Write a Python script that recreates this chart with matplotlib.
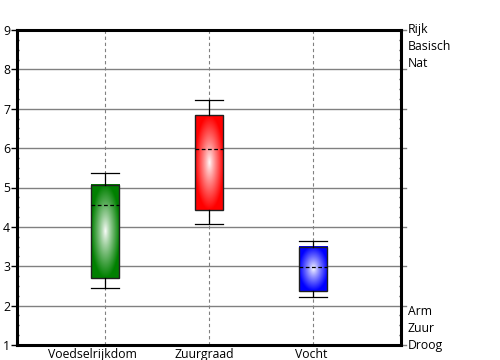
import numpy as np
import matplotlib
matplotlib.use("Agg")
import matplotlib.pyplot as plt
import matplotlib.transforms as mtransforms
from matplotlib.colors import to_rgb

categories = ["Voedselrijkdom", "Zuurgraad", "Vocht"]
whis_low = [2.44, 4.07, 2.21]
q1 = [2.69, 4.44, 2.36]
median = [4.55, 5.97, 2.97]
q3 = [5.07, 6.84, 3.48]
whis_high = [5.38, 7.22, 3.63]
colors = ["#008000", "#ff0000", "#0000ff"]
right_top_labels = ["Rijk", "Basisch", "Nat"]
right_bottom_labels = ["Arm", "Zuur", "Droog"]

plt.rcParams['font.family'] = ['Open Sans', 'DejaVu Sans']
FS = 8.8
label_shift_px = [-13, -5, -2]

fig = plt.figure(figsize=(5, 3.6), dpi=100)
ax = fig.add_axes([17/500, 1 - 345/360, (401 - 17)/500, (345 - 30)/360])

pos = np.arange(1, len(categories) + 1)
width = 0.27
stats = [dict(med=m, q1=a, q3=b, whislo=lo, whishi=hi, fliers=[])
         for m, a, b, lo, hi in zip(median, q1, q3, whis_low, whis_high)]
bp = ax.bxp(stats, positions=pos, widths=width, patch_artist=True,
            showfliers=False, capwidths=width,
            boxprops=dict(facecolor='none', edgecolor='#202020', linewidth=1),
            whiskerprops=dict(color='black', linewidth=0.9),
            capprops=dict(color='black', linewidth=0.9),
            medianprops=dict(color='black', linestyle=(0, (3, 2)), linewidth=0.9),
            zorder=4)

for i, (p, a, b, c) in enumerate(zip(pos, q1, q3, colors)):
    n = 200
    yy, xx = np.mgrid[-1:1:n*1j, -1:1:n*1j]
    r = np.clip(np.sqrt(xx**2 + yy**2), 0, 1) ** 0.85
    base = np.array(to_rgb(c))
    img = (1 - r[..., None]) * np.ones(3) + r[..., None] * base
    ax.imshow(img, extent=[p - width/2, p + width/2, a, b], aspect='auto',
              origin='lower', zorder=3, interpolation='bilinear')

ax.set_xlim(0.154, 3.846)
ax.set_ylim(1, 9)

# grid
for y in range(2, 9):
    ax.axhline(y, color='#808080', linewidth=1, zorder=1)
for p in pos:
    ax.axvline(p, color='#808080', linewidth=0.8, linestyle=(0, (3, 2.5)), zorder=1)

ax.set_xticks(pos)
ax.set_xticklabels(categories, fontsize=FS)
ax.tick_params(axis='x', length=0, pad=2)
for lbl, dx in zip(ax.get_xticklabels(), label_shift_px):
    lbl.set_transform(lbl.get_transform() +
                      mtransforms.ScaledTranslation(dx / 100, 0, fig.dpi_scale_trans))
ax.set_yticks(range(1, 10))
ax.set_yticklabels([str(v) for v in range(1, 10)], fontsize=FS)
ax.set_yticks(np.arange(1, 9.01, 0.25), minor=True)
ax.tick_params(axis='y', which='major', length=4, width=1, color='black', pad=1,
               right=False, labelright=False)
ax.tick_params(axis='y', which='minor', length=1.5, width=1, color='#404040',
               direction='in', right=True)
# right-side gray ticks (extensions of grid)
for y in range(1, 10):
    ax.plot([1.0, 1.012], [y, y], transform=ax.get_yaxis_transform(),
            color='#808080', linewidth=1, clip_on=False, zorder=2)
for s in ax.spines.values():
    s.set_linewidth(2.2)
    s.set_color('black')
    s.set_zorder(6)

for k, t in enumerate(right_top_labels):
    ax.text(1.018, 9 - k*0.43, t, transform=ax.get_yaxis_transform(),
            va='center', ha='left', fontsize=FS)
for k, t in enumerate(right_bottom_labels):
    ax.text(1.018, 1.84 - k*0.43, t, transform=ax.get_yaxis_transform(),
            va='center', ha='left', fontsize=FS)

fig.savefig("out.png", dpi=100)
